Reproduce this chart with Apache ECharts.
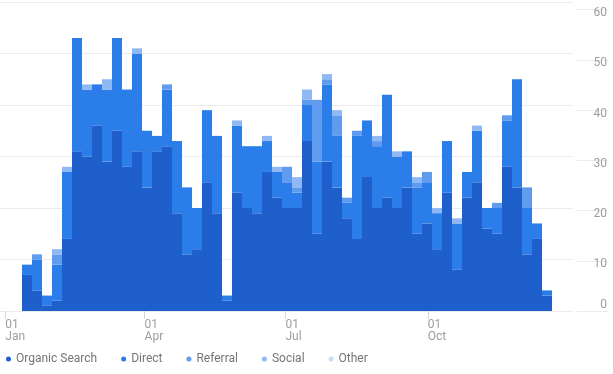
<!DOCTYPE html>
<html><head><meta charset="utf-8">
<script src="https://cdn.jsdelivr.net/npm/echarts@6/dist/echarts.min.js"></script>
<style>html,body{margin:0;padding:0;background:#fff}#c{width:613px;height:374px}</style>
</head><body><div id="c"></div>
<script>
// Weekly categories
const weeks = ['W01','W02','W03','W04','W05','W06','W07','W08','W09','W10',
  'W11','W12','W13','W14','W15','W16','W17','W18','W19','W20',
  'W21','W22','W23','W24','W25','W26','W27','W28','W29','W30',
  'W31','W32','W33','W34','W35','W36','W37','W38','W39','W40',
  'W41','W42','W43','W44','W45','W46','W47','W48','W49','W50',
  'W51','W52','W53'];
const seriesNames = ['Organic Search','Direct','Referral','Social','Other'];
const organic = [7,4,1,2,14, 31,30,36,29,35, 28,31,24,31,32, 19,11,12,25,19, 2,23,20,19,27, 22,20,20,33,15, 29,24,18,14,26, 20,22,20,24,15, 17,12,23,8,22, 25,16,15,28,24, 11,14,3];
const direct  = [2,6,2,7,13, 22,13,8,14,18, 15,19,11,3,11, 14,13,8,14,15, 1,13,12,13,6, 5,5,3,7,14, 15,10,3,20,11, 12,20,10,7,9, 8,7,10,9,5, 10,4,5,9,21, 9,3,1];
const referral= [0,1,0,2,0, 0,0,0,0,0, 0,0,0,0,1, 0,0,0,0,0, 0,0,0,0,0, 0,3,1,1,12, 1,4,1,1,0, 1,0,0,0,1, 2,0,0,0,0, 0,0,1,1,0, 4,0,0];
const social  = [0,0,0,1,1, 0,1,0,2,0, 0,1,0,0,0, 0,0,0,0,0, 0,1,0,0,1, 1,0,2,2,0, 1,1,0,0,0, 1,0,1,0,1, 0,1,0,1,0, 1,0,0,0,0, 0,0,0];
const other   = [0,0,0,0,0, 0,0,0,0,0, 0,0,0,0,0, 0,0,0,0,0, 0,0,0,0,0, 0,0,0,0,0, 0,0,0,0,0, 0,0,0,0,0, 0,0,0,0,0, 0,0,0,0,0, 0,0,0];
// Date axis ticks (days since 1 Jan)
const tickDays = [0, 90, 181, 273];
const tickLabels = ['01\nJan','01\nApr','01\nJul','01\nOct'];

const colors = ['#1f5fcb','#2b7de9','#5f9bef','#8fb9f5','#c6dbfb'];
const values = [organic, direct, referral, social, other];

const chart = echarts.init(document.getElementById('c'), null, {renderer:'canvas'});
const option = {
  animation: false,
  textStyle: {fontFamily: 'Roboto'},
  color: colors,
  grid: [
    {left: 0, width: 573, top: 2, bottom: 63},
    {left: 22, width: 530, top: 2, bottom: 63},
    {left: 577, width: 31, top: 2, bottom: 63}
  ],
  xAxis: [
    {type: 'value', gridIndex: 0, min: -3.42, max: 366.8,
     splitLine: {show: false}, axisLine: {show: false},
     axisTick: {show: true, customValues: tickDays, length: 8, lineStyle: {color: '#d6d6d6'}},
     axisLabel: {customValues: tickDays, formatter: v => tickLabels[tickDays.indexOf(v)],
                 align: 'left', color: '#9e9e9e', fontSize: 12, lineHeight: 12, margin: 8}},
    {type: 'category', gridIndex: 1, data: weeks, show: false},
    {type: 'value', gridIndex: 2, min: 0, max: 1, show: false}
  ],
  yAxis: [
    {type: 'value', gridIndex: 0, min: 0, max: 60, interval: 10,
     axisLabel: {show: false}, axisLine: {show: false}, axisTick: {show: false},
     splitLine: {lineStyle: {color: '#ebebeb'}}},
    {type: 'value', gridIndex: 1, min: 0, max: 60, show: false},
    {type: 'value', gridIndex: 2, min: 0, max: 60, interval: 10, position: 'right',
     axisLine: {show: false}, axisTick: {show: false},
     splitLine: {lineStyle: {color: '#ebebeb'}},
     axisLabel: {inside: true, margin: 1, color: '#9e9e9e', fontSize: 12,
       formatter: v => v === 0 ? '{z|' + v + '}' : '{n|' + v + '}',
       rich: {
         n: {padding: [7, 0, 0, 0], lineHeight: 14, fontSize: 12, color: '#9e9e9e'},
         z: {padding: [0, 0, 13, 0], lineHeight: 14, fontSize: 12, color: '#9e9e9e'}
       }}}
  ],
  legend: {
    left: 1, top: 348, icon: 'circle', itemWidth: 5, itemHeight: 5, itemGap: 24,
    textStyle: {color: '#757575', fontSize: 12},
    data: seriesNames
  },
  series: seriesNames.map((n, i) => ({
    name: n, type: 'bar', stack: 'total', xAxisIndex: 1, yAxisIndex: 1,
    barCategoryGap: '0%', data: values[i],
    itemStyle: {color: colors[i]},
    emphasis: {disabled: true}
  }))
};
chart.setOption(option);
</script>
</body></html>
